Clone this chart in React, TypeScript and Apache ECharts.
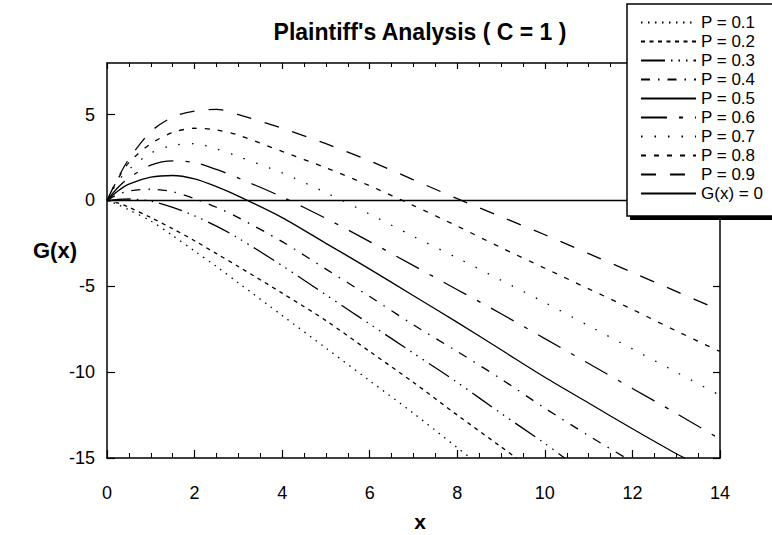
import React, { useEffect, useRef } from 'react';
import * as echarts from 'echarts';

const FONT = "'Liberation Sans', Arial, Helvetica, sans-serif";

const TITLE = "Plaintiff's Analysis ( C = 1 )";
const Y_NAME = 'G(x)';
const X_NAME = 'x';

const X_GRID = [0, 0.25, 0.5, 1, 1.5, 2, 2.5, 3, 4, 5, 6, 7, 8, 9, 10, 11, 12, 13, 14];

const P_LABELS = ['P = 0.1', 'P = 0.2', 'P = 0.3', 'P = 0.4', 'P = 0.5', 'P = 0.6', 'P = 0.7', 'P = 0.8', 'P = 0.9'];
const ZERO_LABEL = 'G(x) = 0';

const G_P01 = [0, -0.25, -0.55, -1.2, -2.05, -2.95, -3.85, -4.8, -6.7, -8.6, -10.5, -12.4, -14.4];
const G_P02 = [0, -0.15, -0.4, -1.0, -1.65, -2.35, -3.1, -3.85, -5.4, -7.0, -8.8, -10.6, -12.5, -14.35];
const G_P03 = [0, 0.06, 0.08, -0.05, -0.4, -0.9, -1.5, -2.2, -3.8, -5.5, -7.2, -8.9, -10.6, -12.4, -14.15];
const G_P04 = [0, 0.35, 0.55, 0.65, 0.5, 0.1, -0.4, -1.0, -2.4, -4.0, -5.6, -7.25, -8.8, -10.4, -12.1, -13.7];
const G_P05 = [0, 0.55, 0.95, 1.35, 1.45, 1.25, 0.8, 0.25, -1.0, -2.5, -4.0, -5.55, -7.1, -8.7, -10.3, -11.8, -13.3, -14.75];
const G_P06 = [0, 0.75, 1.3, 2.05, 2.3, 2.2, 1.8, 1.3, 0.2, -1.05, -2.4, -3.8, -5.2, -6.6, -8.05, -9.5, -10.95, -12.4, -13.9];
const G_P07 = [0, 1.1, 1.8, 2.75, 3.2, 3.3, 3.0, 2.55, 1.6, 0.45, -0.8, -2.1, -3.35, -4.65, -5.95, -7.3, -8.65, -10.0, -11.35];
const G_P08 = [0, 1.25, 2.2, 3.3, 3.95, 4.2, 4.1, 3.8, 2.85, 1.9, 0.85, -0.3, -1.5, -2.75, -3.95, -5.15, -6.35, -7.6, -8.8];
const G_P09 = [0, 1.3, 2.4, 4.0, 4.85, 5.2, 5.3, 5.0, 4.2, 3.3, 2.3, 1.2, 0.1, -0.95, -2.0, -3.1, -4.2, -5.3, -6.4];

// where a curve leaves the plot at its lower edge (x, y)
const EXIT_P01 = [8.3, -15];
const EXIT_P02 = [9.35, -15];
const EXIT_P03 = [10.45, -15];
const EXIT_P04 = [11.85, -15];
const EXIT_P05 = [13.2, -15];

const ZERO_X = [0, 14];
const ZERO_Y = [0, 0];

const SERIES_Y = [G_P01, G_P02, G_P03, G_P04, G_P05, G_P06, G_P07, G_P08, G_P09];
const SERIES_EXIT: (number[] | null)[] = [EXIT_P01, EXIT_P02, EXIT_P03, EXIT_P04, EXIT_P05, null, null, null, null];

const DASHES: (number[] | 'solid')[] = [
  [1.5, 5.5],
  [4, 4.5],
  [24, 6, 1.5, 6, 1.5, 6, 1.5, 6],
  [9, 8, 1.5, 8],
  'solid',
  [26, 12, 4, 12],
  [1.5, 12],
  [5, 8],
  [15, 14],
];

function buildPoints(ys: number[], exit: number[] | null) {
  const pts: number[][] = ys.map((y, i) => [X_GRID[i], y]);
  if (exit) pts.push(exit);
  return pts;
}

export default function App() {
  const ref = useRef<HTMLDivElement>(null);

  useEffect(() => {
    if (!ref.current) return;
    const chart = echarts.init(ref.current, null, { renderer: 'svg' });

    const series: any[] = SERIES_Y.map((ys, i) => ({
      type: 'line',
      name: P_LABELS[i],
      data: buildPoints(ys, SERIES_EXIT[i]),
      symbol: 'none',
      smooth: 0.3,
      clip: true,
      lineStyle: { color: '#000', width: 1.3, type: DASHES[i], cap: 'butt' },
      itemStyle: { color: '#000' },
      z: 2,
    }));
    series.push({
      type: 'line',
      name: ZERO_LABEL,
      data: ZERO_X.map((x, i) => [x, ZERO_Y[i]]),
      symbol: 'none',
      lineStyle: { color: '#000', width: 1.5, type: 'solid' },
      itemStyle: { color: '#000' },
      z: 2,
    });

    const axisLine = { show: true, onZero: false, lineStyle: { color: '#000', width: 1.5 } };
    const labelStyle = { color: '#000', fontFamily: FONT, fontSize: 18 };

    const option: any = {
      animation: false,
      backgroundColor: '#fff',
      grid: { left: 107, right: 52, top: 63, bottom: 77, containLabel: false },
      xAxis: [
        {
          type: 'value', min: 0, max: 14, interval: 2, position: 'bottom',
          axisLine,
          axisTick: { show: true, inside: true, length: 8, lineStyle: { color: '#000', width: 1.2 } },
          minorTick: { show: true, splitNumber: 4, length: 5, lineStyle: { color: '#000', width: 1 } },
          axisLabel: { ...labelStyle, margin: 26 },
          splitLine: { show: false },
        },
        {
          type: 'value', min: 0, max: 14, interval: 2, position: 'top',
          axisLine,
          axisTick: { show: true, inside: true, length: 6, lineStyle: { color: '#000', width: 1.2 } },
          minorTick: { show: true, splitNumber: 4, length: 4, lineStyle: { color: '#000', width: 1 } },
          axisLabel: { show: false },
          splitLine: { show: false },
        },
      ],
      yAxis: [
        {
          type: 'value', min: -15, max: 8, interval: 5, position: 'left',
          axisLine,
          axisTick: { show: true, inside: true, length: 8, lineStyle: { color: '#000', width: 1.2 } },
          axisLabel: { ...labelStyle, margin: 12, showMaxLabel: false },
          splitLine: { show: false },
        },
        {
          type: 'value', min: -15, max: 8, interval: 5, position: 'right',
          axisLine,
          axisTick: { show: true, inside: true, length: 7, lineStyle: { color: '#000', width: 1.2 } },
          axisLabel: { show: false },
          splitLine: { show: false },
        },
      ],
      legend: {
        data: [...P_LABELS, ZERO_LABEL],
        orient: 'vertical',
        left: 640,
        top: 14,
        itemWidth: 55,
        itemHeight: 14,
        itemGap: 2,
        padding: 0,
        selectedMode: false,
        itemStyle: { opacity: 0 },
        textStyle: { color: '#000', fontFamily: FONT, fontSize: 17 },
        z: 20,
      },
      graphic: [
        { type: 'rect', z: 10, shape: { x: 630, y: 8, width: 160, height: 212 }, style: { fill: '#000' } },
        { type: 'rect', z: 11, shape: { x: 627, y: 4, width: 160, height: 212 }, style: { fill: '#fff', stroke: '#000', lineWidth: 1.5 } },
        {
          type: 'text', z: 12, x: 420, y: 32,
          style: { text: TITLE, fontFamily: FONT, fontWeight: 'bold', fontSize: 23, fill: '#000', align: 'center', verticalAlign: 'middle' },
        },
        {
          type: 'text', z: 12, x: 55, y: 250,
          style: { text: Y_NAME, fontFamily: FONT, fontWeight: 'bold', fontSize: 22, fill: '#000', align: 'center', verticalAlign: 'middle' },
        },
        {
          type: 'text', z: 12, x: 420, y: 521,
          style: { text: X_NAME, fontFamily: FONT, fontWeight: 'bold', fontSize: 21, fill: '#000', align: 'center', verticalAlign: 'middle' },
        },
      ],
      series,
    };

    chart.setOption(option);
    return () => chart.dispose();
  }, []);

  return (
    <div
      ref={ref}
      style={{ position: 'fixed', left: 0, top: 0, width: 772, height: 535, background: '#fff' }}
    />
  );
}
